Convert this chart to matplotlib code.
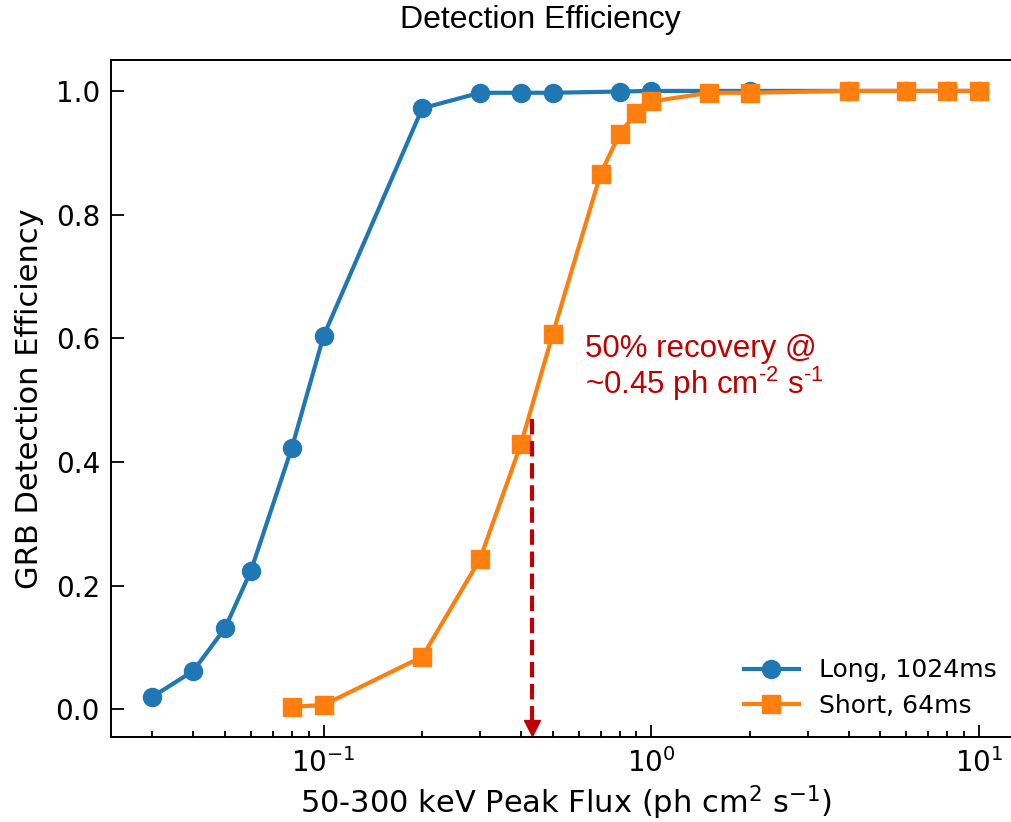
import matplotlib
matplotlib.use("Agg")
import matplotlib.pyplot as plt
import numpy as np

plt.rcParams['mathtext.fontset'] = 'dejavusans'
plt.rcParams['mathtext.rm'] = 'Liberation Sans'

# Data
long_x = [0.03, 0.04, 0.05, 0.06, 0.08, 0.1, 0.2, 0.3, 0.4, 0.5, 0.8, 1.0, 2.0, 4.0, 6.0, 8.0, 10.0]
long_y = [0.020, 0.062, 0.131, 0.224, 0.423, 0.604, 0.972, 0.997, 0.997, 0.997, 0.999, 1.0, 1.0, 1.0, 1.0, 1.0, 1.0]
short_x = [0.08, 0.1, 0.2, 0.3, 0.4, 0.5, 0.7, 0.8, 0.9, 1.0, 1.5, 2.0, 4.0, 6.0, 8.0, 10.0]
short_y = [0.004, 0.007, 0.085, 0.243, 0.429, 0.607, 0.866, 0.931, 0.965, 0.983, 0.997, 0.997, 1.0, 1.0, 1.0, 1.0]
marker_x = 0.432
marker_top = 0.47
yticks = [0.0, 0.2, 0.4, 0.6, 0.8, 1.0]

W, H = 1011, 822
fig = plt.figure(figsize=(W / 100, H / 100), dpi=100)
l, r, t, b = 111, 1020.5, 60, 737.3
ax = fig.add_axes([l / W, 1 - b / H, (r - l) / W, (b - t) / H])

ax.plot(long_x, long_y, '-o', color='#1f77b4', lw=3, ms=13, label='Long, 1024ms')
ax.plot(short_x, short_y, '-s', color='#ff7f0e', lw=3, ms=12.5, label='Short, 64ms')

red = '#c00000'
ax.plot([marker_x, marker_x], [marker_top, -0.022], '--', color=red, lw=3)
ax.plot([marker_x], [-0.031], 'v', color=red, ms=11.5, clip_on=False)

ax.set_xscale('log')
ax.set_xlim(0.02245, 13.37)
ax.set_ylim(-0.0453, 1.050)
ax.set_yticks(yticks)
ax.set_yticklabels([f'{v:.1f}' for v in yticks])

for s in ax.spines.values():
    s.set_linewidth(1.4)
ax.spines['right'].set_visible(False)
ax.tick_params(which='both', direction='in', labelsize=20, pad=8, width=1.3)
ax.tick_params(which='major', length=9)
ax.tick_params(which='minor', length=4.5)

ax.set_xlabel(r'50-300 keV Peak Flux (ph cm$^2$ s$^{-1}$)', fontsize=22, labelpad=4)
ax.set_ylabel('GRB Detection Efficiency', fontsize=22, labelpad=8)

fig.text(540 / W, 1 - 20 / H, 'Detection Efficiency', fontsize=23, family='Liberation Sans',
         ha='center', va='center')

ax.text(0.627, 0.570, '50% recovery @', fontsize=22.5, color=red, family='Liberation Sans',
        ha='left', va='baseline')
ax.text(0.627, 0.510, r'~0.45 ph cm$^{\text{-}2}$ s$^{\text{-}1}$', fontsize=22.5, color=red,
        family='Liberation Sans', math_fontfamily='custom',
        ha='left', va='baseline')

leg = ax.legend(loc='lower right', frameon=False, fontsize=18,
                bbox_to_anchor=((1019 - l) / (r - l), -0.004), handlelength=2.2,
                labelspacing=0.45, handletextpad=0.8)

fig.savefig('out.png', dpi=100)
